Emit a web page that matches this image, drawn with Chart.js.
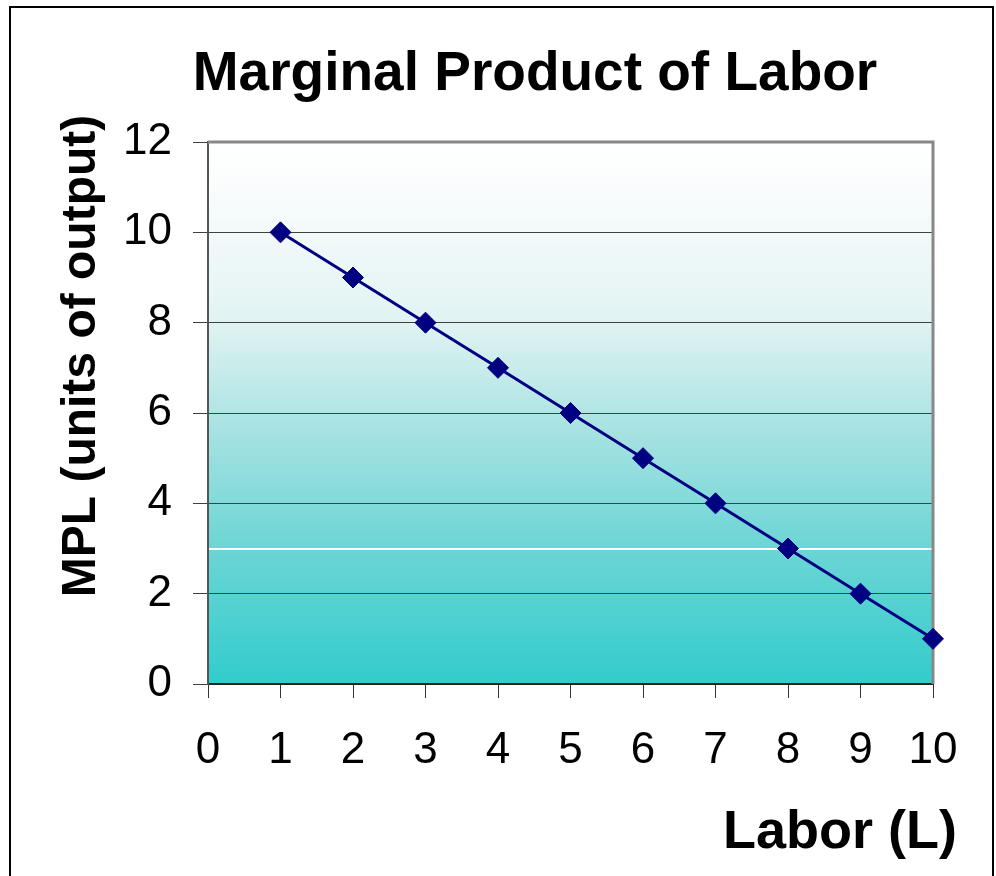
<!DOCTYPE html>
<html lang="en">
<head>
  <meta charset="UTF-8">
  <title>Marginal Product of Labor</title>
  <script src="https://cdn.jsdelivr.net/npm/chart.js"></script>
  <style>
    html, body {
      margin: 0;
      padding: 0;
      background: #fff;
      overflow: hidden;
    }

    #wrap {
      position: relative;
      width: 996px;
      height: 876px;
    }

    #frame {
      position: absolute;
      left: 9px;
      top: 6px;
      width: 985px;
      height: 900px;
      border: 2px solid #000;
      box-sizing: border-box;
      pointer-events: none;
    }

    canvas {
      position: absolute;
      left: 0;
      top: 0;
    }
  </style>
</head>
<body>
  <div id="wrap">
    <canvas id="mplChart" width="996" height="876"></canvas>
    <div id="frame"></div>
  </div>

  <script>
    // data
    const laborUnits = [1, 2, 3, 4, 5, 6, 7, 8, 9, 10];
    const mplValues = [10, 9, 8, 7, 6, 5, 4, 3, 2, 1];
    const xTickValues = [0, 1, 2, 3, 4, 5, 6, 7, 8, 9, 10];
    const yTickValues = [0, 2, 4, 6, 8, 10, 12];
    const bandEdge = 3; // the thin white stripe in the background fill

    const FONT = '"Liberation Sans", Arial, sans-serif';

    const plotBackground = {
      id: 'plotBackground',
      beforeDraw(chart) {
        const { ctx, chartArea: a, scales } = chart;
        const g = ctx.createLinearGradient(0, a.top, 0, a.bottom);
        g.addColorStop(0, '#ffffff');
        g.addColorStop(0.1, '#f9fcfc');
        g.addColorStop(0.33, '#e2f3f3');
        g.addColorStop(0.53, '#a8e2e2');
        g.addColorStop(0.75, '#6cd5d5');
        g.addColorStop(1, '#33cccc');
        ctx.save();
        ctx.fillStyle = g;
        ctx.fillRect(a.left, a.top, a.width, a.height);
        const yw = Math.round(scales.y.getPixelForValue(bandEdge));
        ctx.strokeStyle = '#ffffff';
        ctx.lineWidth = 2;
        ctx.beginPath();
        ctx.moveTo(a.left, yw);
        ctx.lineTo(a.right, yw);
        ctx.stroke();
        ctx.restore();
      },
      beforeDatasetsDraw(chart) {
        const { ctx, chartArea: a } = chart;
        ctx.save();
        ctx.strokeStyle = '#888888';
        ctx.lineWidth = 3;
        ctx.beginPath();
        ctx.moveTo(a.left, a.top);
        ctx.lineTo(a.right, a.top);
        ctx.lineTo(a.right, a.bottom);
        ctx.stroke();
        ctx.restore();
      }
    };

    const chartTitles = {
      id: 'chartTitles',
      afterDraw(chart) {
        const ctx = chart.ctx;
        ctx.save();
        ctx.fillStyle = '#000';
        ctx.textBaseline = 'alphabetic';

        ctx.font = 'bold 55px ' + FONT;
        ctx.textAlign = 'center';
        ctx.fillText('Marginal Product of Labor', 535, 90);

        ctx.font = 'bold 54px ' + FONT;
        ctx.textAlign = 'right';
        ctx.fillText('Labor (L)', 957, 848);

        ctx.font = 'bold 48px ' + FONT;
        ctx.textAlign = 'center';
        ctx.translate(95, 356);
        ctx.rotate(-Math.PI / 2);
        ctx.fillText('MPL (units of output)', 0, 0);
        ctx.restore();
      }
    };

    const ctx = document.getElementById('mplChart').getContext('2d');

    new Chart(ctx, {
      type: 'line',
      data: {
        datasets: [{
          label: 'MPL',
          data: laborUnits.map((l, i) => ({ x: l, y: mplValues[i] })),
          borderColor: '#000080',
          borderWidth: 3,
          pointStyle: 'rectRot',
          pointRadius: 10.5,
          pointBackgroundColor: '#000080',
          pointBorderColor: '#000080',
          pointBorderWidth: 1,
          tension: 0,
          clip: false
        }]
      },
      options: {
        responsive: false,
        animation: false,
        devicePixelRatio: 1,
        layout: {
          padding: { left: 123, top: 142, right: 63, bottom: 92 }
        },
        scales: {
          x: {
            type: 'linear',
            min: 0,
            max: 10,
            afterBuildTicks: s => { s.ticks = xTickValues.map(v => ({ value: v })); },
            afterFit: s => { s.height = 100; },
            ticks: {
              font: { family: FONT, size: 44 },
              color: '#000',
              padding: 26,
              maxRotation: 0,
              autoSkip: false
            },
            grid: {
              drawOnChartArea: false,
              drawTicks: true,
              tickLength: 14,
              color: '#333'
            },
            border: { color: '#222', width: 2 }
          },
          y: {
            min: 0,
            max: 12,
            afterBuildTicks: s => { s.ticks = yTickValues.map(v => ({ value: v })); },
            afterFit: s => { s.width = 85; },
            ticks: {
              font: { family: FONT, size: 44 },
              color: '#000',
              padding: 21
            },
            grid: {
              color: '#404040',
              lineWidth: 1,
              tickLength: 15
            },
            border: { color: '#555', width: 2 }
          }
        },
        plugins: {
          legend: { display: false },
          tooltip: { enabled: false }
        }
      },
      plugins: [plotBackground, chartTitles]
    });
  </script>
</body>
</html>
